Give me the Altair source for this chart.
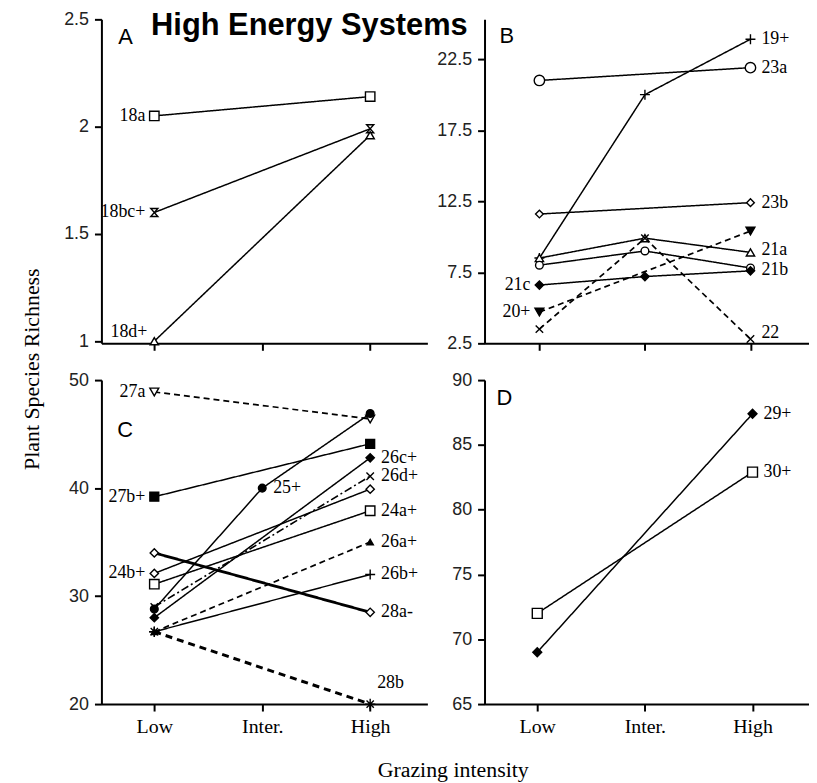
import json
import altair as alt
import pandas as pd

# ---------------- data ----------------
levels = ["Low", "Inter.", "High"]
level_pos = [0, 1, 2]

a_series = ["18a", "18bc+", "18d+"]
a_low = [2.05, 1.60, 1.00]
a_inter = [None, None, None]
a_high = [2.14, 1.99, 1.96]

b_series = ["19+", "23a", "23b", "21a", "21b", "21c", "20+", "22"]
b_low = [8.5, 21.0, 11.6, 8.5, 8.0, 6.6, 4.7, 3.5]
b_inter = [20.0, None, None, 9.9, 9.0, 7.2, None, 9.9]
b_high = [23.9, 21.9, 12.4, 8.9, 7.8, 7.6, 10.4, 2.8]

c_series = ["27a", "27b+", "25+", "26c+", "26d+", "24b+", "24a+", "26a+", "26b+", "28a-", "28b"]
c_low = [48.9, 39.2, 28.8, 28.0, 29.0, 32.1, 31.1, 26.7, 26.7, 34.0, 26.7]
c_inter = [None, None, 40.0, None, None, None, None, None, None, None, None]
c_high = [46.4, 44.1, 46.9, 42.8, 41.1, 39.9, 37.9, 35.0, 32.0, 28.5, 20.0]

d_series = ["29+", "30+"]
d_low = [69.0, 72.0]
d_inter = [None, None]
d_high = [87.4, 82.9]

a_ticks = [1, 1.5, 2, 2.5]
b_ticks = [2.5, 7.5, 12.5, 17.5, 22.5]
c_ticks = [20, 30, 40, 50]
d_ticks = [65, 70, 75, 80, 85, 90]

# ---------------- styles ----------------
SANS = "Liberation Sans"
SERIF = "Liberation Serif"
PLUS = "M-1,0L1,0M0,-1L0,1"
CROSS = "M-0.75,-0.75L0.75,0.75M-0.75,0.75L0.75,-0.75"
HOURGLASS = "M-0.75,-0.85L0.75,-0.85L-0.75,0.85L0.75,0.85Z"
STAR = "M-1,0L1,0M0,-1L0,1M-0.7,-0.7L0.7,0.7M-0.7,0.7L0.7,-0.7"
SOLID = [1, 0]
DASH = [6, 4]
DASHDOT = [8, 3, 2, 3]

# shape, fill, size, dash, line width
style = {
    "18a": ("square", "white", 90, SOLID, 1.5),
    "18bc+": (HOURGLASS, "white", 90, SOLID, 1.5),
    "18d+": ("triangle-up", "white", 70, SOLID, 1.5),
    "19+": (PLUS, "transparent", 100, SOLID, 1.5),
    "23a": ("circle", "white", 110, SOLID, 1.5),
    "23b": ("diamond", "white", 60, SOLID, 1.5),
    "21a": ("triangle-up", "white", 70, SOLID, 1.5),
    "21b": ("circle", "white", 60, SOLID, 1.5),
    "21c": ("diamond", "black", 70, SOLID, 1.5),
    "20+": ("triangle-down", "black", 80, DASH, 1.7),
    "22": (CROSS, "transparent", 100, DASH, 1.7),
    "27a": ("triangle-down", "white", 80, DASH, 1.7),
    "27b+": ("square", "black", 80, SOLID, 1.5),
    "25+": ("circle", "black", 60, SOLID, 1.5),
    "26c+": ("diamond", "black", 70, SOLID, 1.5),
    "26d+": (CROSS, "transparent", 100, DASHDOT, 1.6),
    "24b+": ("diamond", "white", 70, SOLID, 1.5),
    "24a+": ("square", "white", 90, SOLID, 1.5),
    "26a+": ("triangle-up", "black", 40, DASH, 1.7),
    "26b+": (PLUS, "transparent", 100, SOLID, 1.5),
    "28a-": ("diamond", "white", 70, SOLID, 2.8),
    "28b": (STAR, "transparent", 110, [7, 5], 3.0),
    "29+": ("diamond", "black", 80, SOLID, 1.5),
    "30+": ("square", "white", 100, SOLID, 1.5),
}
dash_domain = list(style.keys())
dash_range = [style[k][3] for k in dash_domain]

# label anchor: (level index, side)
label_at = {
    "18a": (0, "left"), "18bc+": (0, "left"), "18d+": (0, "leftup"),
    "19+": (2, "right"), "23a": (2, "right"), "23b": (2, "right"),
    "21a": (2, "rightup_s"), "21b": (2, "rightdown_s"), "21c": (0, "left"),
    "20+": (0, "left"), "22": (2, "rightup"),
    "27a": (0, "left"), "27b+": (0, "left"), "25+": (1, "right"),
    "26c+": (2, "right"), "26d+": (2, "right"), "24b+": (0, "left"),
    "24a+": (2, "right"), "26a+": (2, "right"), "26b+": (2, "right"),
    "28a-": (2, "right"), "28b": (2, "above"),
    "29+": (2, "right"), "30+": (2, "right"),
}

label_expr = json.dumps(levels) + "[datum.value]"


def text_layer(txt, x, y, **kw):
    return alt.Chart(pd.DataFrame({"t": [txt]})).mark_text(**kw).encode(
        text="t:N", x=alt.value(x), y=alt.value(y))


def panel(series, low, inter, high, ydom, yticks, xdom, w, h, letter, lxy,
          show_labels, extra=()):
    rows, lrows = [], []
    for s, l, m, hi in zip(series, low, inter, high):
        shape, fill, size, dash, lw = style[s]
        for xi, v in zip(level_pos, (l, m, hi)):
            if v is None:
                continue
            rows.append(dict(series=s, xpos=xi, val=v, shape=shape,
                             fillc=fill, msize=size, lw=lw))
        li, side = label_at[s]
        lrows.append(dict(series=s, xpos=li, val=(l, m, hi)[li], side=side))
    df = pd.DataFrame(rows)
    ldf = pd.DataFrame(lrows)

    x = alt.X("xpos:Q", scale=alt.Scale(domain=xdom, nice=False, zero=False),
              axis=alt.Axis(values=level_pos, labelExpr=label_expr,
                            labels=show_labels, title=None, grid=False))
    y = alt.Y("val:Q", scale=alt.Scale(domain=ydom, nice=False, zero=False),
              axis=alt.Axis(values=yticks, labelExpr="'' + datum.value",
                            title=None, grid=False))

    base = alt.Chart(df)
    lines = base.mark_line(color="black").encode(
        x=x, y=y, detail="series:N",
        strokeDash=alt.StrokeDash("series:N", scale=alt.Scale(
            domain=dash_domain, range=dash_range), legend=None),
        strokeWidth=alt.StrokeWidth("lw:Q", scale=None),
    )
    points = base.mark_point(filled=True, stroke="black", strokeWidth=1.4,
                             opacity=1).encode(
        x=x, y=y,
        shape=alt.Shape("shape:N", scale=None),
        fill=alt.Fill("fillc:N", scale=None),
        size=alt.Size("msize:Q", scale=None),
    )
    lab = alt.Chart(ldf)
    common = dict(baseline="middle", font=SERIF, fontSize=18, color="black")

    def lab_layer(side, align, dx, dy):
        return lab.transform_filter(f"datum.side == '{side}'").mark_text(
            align=align, dx=dx, dy=dy, **common).encode(
            x=x, y=y, text="series:N")

    layers = [
        lab_layer("left", "right", -9, 0),
        lab_layer("leftup", "right", -7, -9),
        lab_layer("right", "left", 11, 0),
        lab_layer("rightup", "left", 11, -6),
        lab_layer("rightup_s", "left", 11, -2),
        lab_layer("rightdown_s", "left", 11, 2),
        lab_layer("above", "left", 7, -21),
    ]
    letter_l = text_layer(letter, lxy[0], lxy[1], align="left",
                          baseline="alphabetic", font=SANS, fontSize=22,
                          color="black")
    return alt.layer(lines, points, *layers, letter_l,
                     *extra).properties(width=w, height=h)


title_l = text_layer("High Energy Systems", 50, 16, align="left",
                     baseline="alphabetic", font=SANS, fontSize=31,
                     fontWeight="bold", color="black")
ytitle_l = text_layer("Plant Species Richness", -70, -11, align="center",
                      baseline="middle", angle=270, font=SERIF, fontSize=22,
                      color="black")
xtitle_l = text_layer("Grazing intensity", 354, 399, align="center",
                      baseline="alphabetic", font=SERIF, fontSize=22,
                      color="black")

pA = panel(a_series, a_low, a_inter, a_high, [0.99, 2.5], a_ticks,
           [-0.49, 2.53], 328, 326, "A", (17, 25), False, extra=(title_l,))
pB = panel(b_series, b_low, b_inter, b_high, [2.5, 25.3], b_ticks,
           [-0.52, 2.55], 326, 326, "B", (15, 24), False)
pC = panel(c_series, c_low, c_inter, c_high, [20, 50], c_ticks,
           [-0.49, 2.53], 328, 326, "C", (16, 57), True,
           extra=(ytitle_l, xtitle_l))
pD = panel(d_series, d_low, d_inter, d_high, [65, 90], d_ticks,
           [-0.49, 2.52], 326, 326, "D", (12, 25), True)

chart = alt.concat(
    pA, pB, pC, pD, columns=2, bounds="flush",
    spacing={"row": 37, "column": 57.5},
).resolve_scale(x="independent", y="independent").properties(
    padding={"left": 12, "top": 0, "right": 0, "bottom": 0},
    background="white",
).configure_view(strokeWidth=0).configure_axis(
    domainColor="black", domainWidth=2, tickColor="black", tickWidth=2,
    tickSize=7,
).configure_axisY(
    labelFont=SANS, labelFontSize=18, labelColor="#222", labelPadding=6,
).configure_axisX(
    labelFont=SERIF, labelFontSize=20, labelColor="black", labelPadding=6,
)

chart.save("out.html", embed_options={"renderer": "svg", "actions": False})
